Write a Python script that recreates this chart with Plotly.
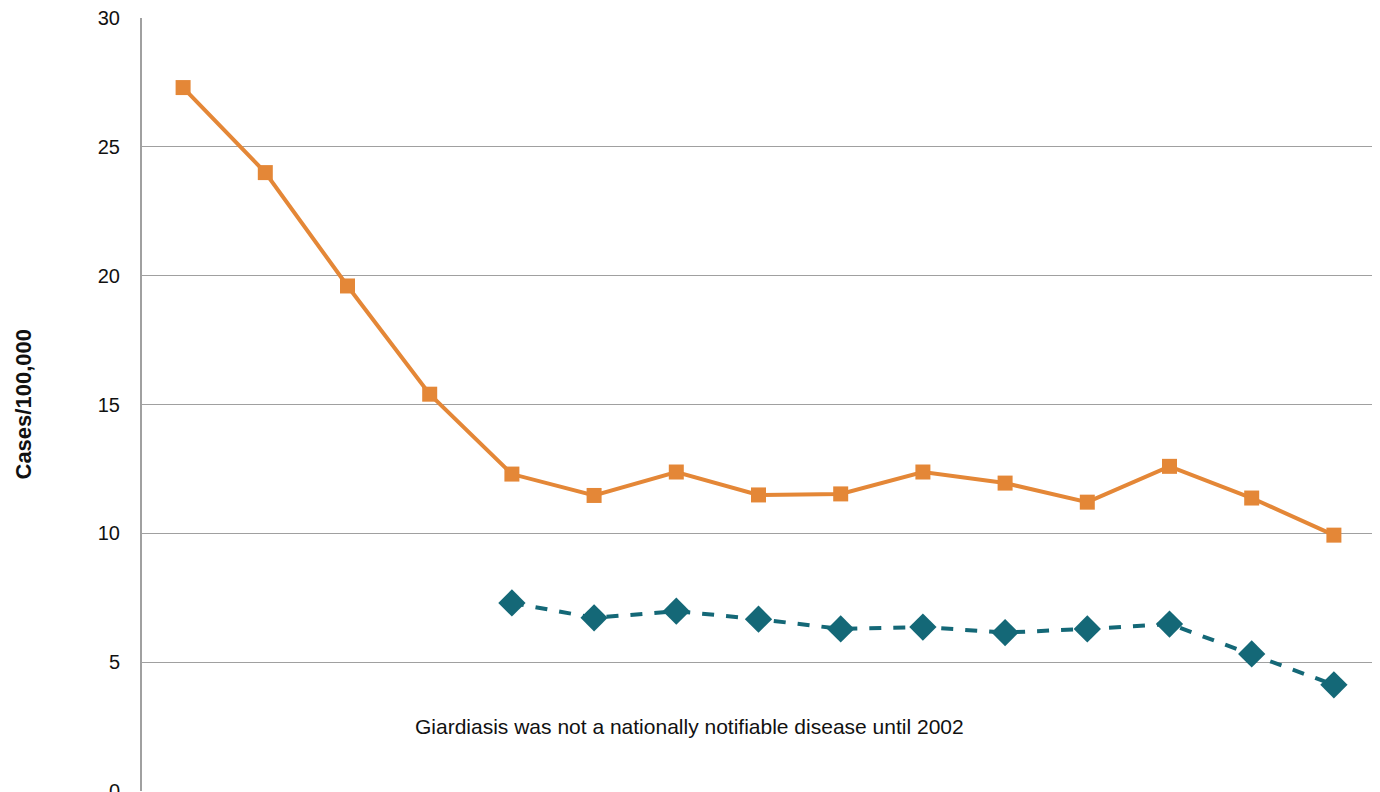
import plotly.graph_objects as go

years = [str(y) for y in range(1998, 2013)]
series_a = [27.3, 24.0, 19.6, 15.4, 12.3, 11.47, 12.38, 11.49, 11.53, 12.38, 11.95, 11.21, 12.6, 11.37, 9.93]
years_b = [str(y) for y in range(2002, 2013)]
series_b = [7.3, 6.72, 6.98, 6.67, 6.29, 6.36, 6.15, 6.29, 6.48, 5.32, 4.12]
y_ticks = [0, 5, 10, 15, 20, 25, 30]
note_text = "Giardiasis was not a nationally notifiable disease until 2002"

L, T, R, B = 134, 10, 5, 1
PW = 1233

fig = go.Figure()
fig.add_trace(go.Scatter(
    x=years, y=series_a, mode="lines+markers",
    line=dict(color="#E48737", width=4),
    marker=dict(symbol="square", size=15, color="#E48737"),
    showlegend=False,
))
fig.add_trace(go.Scatter(
    x=years_b, y=series_b, mode="lines+markers",
    line=dict(color="#146877", width=4, dash="dash"),
    marker=dict(symbol="diamond", size=21, color="#146877"),
    showlegend=False,
))

fig.add_annotation(
    text=note_text, xref="paper", yref="y",
    x=(405 - L) / PW, y=2.5, xanchor="left", yanchor="middle",
    showarrow=False, font=dict(size=21, color="#111111", family="Liberation Sans, Arial, sans-serif"),
)
fig.add_annotation(
    text="<b>Cases/100,000</b>", xref="paper", yref="paper",
    x=(15 - L) / PW, y=0.5, textangle=-90, xanchor="center", yanchor="middle",
    showarrow=False, font=dict(size=22, color="#111111", family="Liberation Sans, Arial, sans-serif"),
)

fig.update_layout(
    width=L + PW + R, height=T + 773 + B,
    margin=dict(l=L, r=R, t=T, b=B, autoexpand=False),
    paper_bgcolor="white", plot_bgcolor="white",
    font=dict(family="Liberation Sans, Arial, sans-serif", size=20, color="#111111"),
    xaxis=dict(
        type="category", categoryorder="array", categoryarray=years,
        range=[-0.5, 14.5], showgrid=False, showticklabels=False,
        showline=False, zeroline=False, ticks="", automargin=False,
    ),
    yaxis=dict(
        range=[0, 30], tickvals=y_ticks, showgrid=True, gridcolor="#A0A0A0", gridwidth=1.2,
        showline=True, linecolor="#A0A0A0", linewidth=2, zeroline=False,
        ticks="", ticklabelstandoff=16, tickfont=dict(size=20),
        ticklabeloverflow="allow", automargin=False,
    ),
)

fig.write_html("out.html")
